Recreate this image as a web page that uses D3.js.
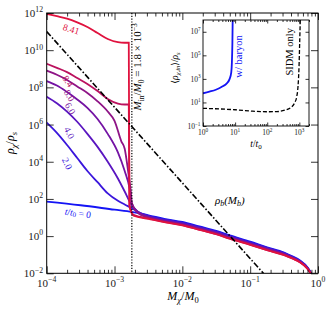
<!DOCTYPE html>
<html>
<head>
<meta charset="utf-8">
<script src="https://cdn.jsdelivr.net/npm/d3@7"></script>
<style>
  body { margin: 0; background: #fff; }
  svg { display: block; }
  text { font-family: "Liberation Serif", "DejaVu Serif", serif; }
</style>
</head>
<body>
<script>
'use strict';

// all values are log10: [log M_chi/M_0, log rho_chi/rho_s]
const mainXTicks = [-4, -3, -2, -1, 0];
const mainYTicks = [-2, 0, 2, 4, 6, 8, 10, 12];
const insetXTicks = [0, 1, 2, 3];
const insetYTicks = [-1, 1, 3, 5, 7];

const times = ["0", "2.0", "4.0", "6.0", "8.0", "8.4", "8.41"];
const colors = ["#1414f5", "#3a16dc", "#5a16c0", "#7414a4", "#8e1486", "#bb125e", "#e0123e"];

const profT0 = [[-4, 1.86], [-3.5, 1.66], [-3.0, 1.42], [-2.745, 1.3], [-2.5, 1.12], [-2.25, 0.92],
  [-2.0, 0.76], [-1.75, 0.52], [-1.5, 0.28], [-1.3, 0.04], [-1.0, -0.3], [-0.75, -0.6], [-0.5, -0.88],
  [-0.37, -1.1], [-0.27, -1.3], [-0.15, -1.7], [-0.1, -2.0], [-0.08, -2.15]];
const prof20 = [[-4, 6.1], [-3.85, 5.55], [-3.7, 4.9], [-3.55, 4.2], [-3.4, 3.5], [-3.25, 2.9],
  [-3.1, 2.3], [-2.95, 1.9], [-2.85, 1.7], [-2.745, 1.5], [-2.65, 1.3], [-2.5, 1.09], [-2.25, 0.88],
  [-2.0, 0.72], [-1.75, 0.48], [-1.5, 0.24], [-1.3, 0.0], [-1.0, -0.34], [-0.75, -0.63], [-0.5, -0.91],
  [-0.37, -1.13], [-0.27, -1.32], [-0.15, -1.72], [-0.1, -2.01], [-0.08, -2.16]];
const prof40 = [[-4, 7.5], [-3.85, 7.15], [-3.7, 6.7], [-3.55, 6.15], [-3.4, 5.5], [-3.25, 4.8],
  [-3.1, 4.0], [-2.95, 3.1], [-2.85, 2.4], [-2.745, 1.65], [-2.65, 1.3], [-2.5, 1.06], [-2.25, 0.85],
  [-2.0, 0.69], [-1.75, 0.45], [-1.5, 0.21], [-1.3, -0.03], [-1.0, -0.37], [-0.75, -0.66], [-0.5, -0.94],
  [-0.37, -1.15], [-0.27, -1.34], [-0.15, -1.74], [-0.1, -2.02], [-0.08, -2.17]];
const prof60 = [[-4, 8.34], [-3.85, 8.1], [-3.7, 7.75], [-3.55, 7.35], [-3.4, 6.9], [-3.25, 6.3],
  [-3.1, 5.5], [-2.95, 4.5], [-2.85, 3.5], [-2.78, 2.6], [-2.745, 1.75], [-2.65, 1.28], [-2.5, 1.02],
  [-2.25, 0.81], [-2.0, 0.65], [-1.75, 0.41], [-1.5, 0.17], [-1.3, -0.07], [-1.0, -0.4], [-0.75, -0.69],
  [-0.5, -0.96], [-0.37, -1.17], [-0.27, -1.36], [-0.15, -1.75], [-0.1, -2.03], [-0.08, -2.18]];
const prof80 = [[-4, 8.9], [-3.85, 8.68], [-3.7, 8.4], [-3.55, 8.05], [-3.4, 7.7], [-3.25, 7.25],
  [-3.1, 6.7], [-3.0, 6.2], [-2.9, 5.1], [-2.85, 4.7], [-2.8, 3.5], [-2.76, 2.4], [-2.745, 1.8],
  [-2.65, 1.22], [-2.5, 0.99], [-2.25, 0.78], [-2.0, 0.62], [-1.75, 0.38], [-1.5, 0.14], [-1.3, -0.1],
  [-1.0, -0.43], [-0.75, -0.72], [-0.5, -0.99], [-0.37, -1.19], [-0.27, -1.38], [-0.15, -1.76],
  [-0.1, -2.04], [-0.08, -2.19]];
const prof84 = [[-4, 9.27], [-3.85, 9.05], [-3.7, 8.82], [-3.55, 8.5], [-3.4, 8.18], [-3.25, 7.8],
  [-3.1, 7.38], [-2.95, 7.13], [-2.85, 7.08], [-2.79, 7.08], [-2.78, 1.7], [-2.72, 1.15], [-2.5, 0.95],
  [-2.25, 0.75], [-2.0, 0.59], [-1.75, 0.35], [-1.5, 0.11], [-1.3, -0.13], [-1.0, -0.46], [-0.75, -0.75],
  [-0.5, -1.01], [-0.37, -1.21], [-0.27, -1.39], [-0.15, -1.77], [-0.1, -2.05], [-0.08, -2.2]];
const prof841 = [[-4, 11.95], [-3.85, 11.83], [-3.7, 11.7], [-3.55, 11.5], [-3.4, 11.25], [-3.25, 10.92],
  [-3.1, 10.6], [-2.95, 10.43], [-2.85, 10.4], [-2.79, 10.4], [-2.78, 1.6], [-2.72, 1.1], [-2.5, 0.93],
  [-2.25, 0.74], [-2.0, 0.58], [-1.75, 0.34], [-1.5, 0.1], [-1.3, -0.14], [-1.0, -0.47], [-0.75, -0.76],
  [-0.5, -1.02], [-0.37, -1.22], [-0.27, -1.4], [-0.15, -1.78], [-0.1, -2.05], [-0.08, -2.2]];
const profiles = [profT0, prof20, prof40, prof60, prof80, prof84, prof841];

// label anchor for each curve, [log M, log rho, angle]
const labelPos = [[-3.54, 1.22, 8], [-3.70, 3.9, 65], [-3.67, 5.55, 62], [-3.655, 6.85, 60],
  [-3.67, 7.55, 58], [-3.69, 8.32, 56], [-3.64, 11.12, 17]];

const baryonLine = [[-4, 11.0], [-0.8, -2.02]];
const mIn = 1.8e-3;

// inset: [log t/t0, log <rho_in>/rho_s]
const withBaryon = [[0, 1.78], [0.2, 1.92], [0.4, 2.08], [0.6, 2.35], [0.74, 2.62], [0.83, 3.0],
  [0.88, 3.55], [0.9, 4.4], [0.915, 6.0], [0.925, 8.1]];
const sidmOnly = [[0, 0.5], [0.5, 0.45], [1, 0.38], [1.5, 0.27], [2, 0.21], [2.3, 0.22], [2.55, 0.35],
  [2.75, 0.6], [2.85, 0.95], [2.92, 1.5], [2.96, 2.4], [2.99, 4.0], [3.01, 6.0], [3.03, 8.1]];

const width = 332, height = 310;
const svg = d3.select("body").append("svg")
  .attr("width", width)
  .attr("height", height);

const x = d3.scaleLog().domain([1e-4, 1]).range([46.7, 318]);
const y = d3.scaleLog().domain([1e-2, 1e12]).range([273.3, 13]);

function sci(text, e, fs) {
  text.append("tspan").text("10");
  text.append("tspan")
    .attr("dy", -fs * 0.42)
    .attr("font-size", fs * 0.7)
    .text(e < 0 ? "\u2212" + (-e) : e);
}

function minorTicks(lo, hi, max) {
  let out = [];
  for (let k = lo; k < hi; k++) {
    for (let m = 2; m <= 9; m++) {
      if (m * Math.pow(10, k) <= max) out.push(m * Math.pow(10, k));
    }
  }
  return out;
}

function tickAxis(g, axis) {
  g.call(axis);
  g.select(".domain").remove();
  g.selectAll(".tick line").attr("stroke", "#000").attr("stroke-width", 0.8);
}

// main plot
svg.append("clipPath").attr("id", "clip")
  .append("rect")
  .attr("x", 46.7).attr("y", 13)
  .attr("width", 318 - 46.7).attr("height", 273.3 - 13);

const plot = svg.append("g").attr("clip-path", "url(#clip)");
const line = d3.line()
  .x(d => x(Math.pow(10, d[0])))
  .y(d => y(Math.pow(10, d[1])))
  .curve(d3.curveMonotoneX);

plot.selectAll("path.prof")
  .data(profiles)
  .enter()
  .append("path")
  .attr("class", "prof")
  .attr("fill", "none")
  .attr("stroke", (d, i) => colors[i])
  .attr("stroke-width", 1.8)
  .attr("d", line);

plot.append("path")
  .datum(baryonLine)
  .attr("fill", "none")
  .attr("stroke", "#000")
  .attr("stroke-width", 1.6)
  .attr("stroke-dasharray", "6,2,1.5,2")
  .attr("d", d3.line().x(d => x(Math.pow(10, d[0]))).y(d => y(Math.pow(10, d[1]))));

plot.append("line")
  .attr("x1", x(mIn)).attr("x2", x(mIn))
  .attr("y1", y(1e12)).attr("y2", y(1e-2))
  .attr("stroke", "#000")
  .attr("stroke-width", 1.2)
  .attr("stroke-dasharray", "1.2,1.6");

// curve labels
const labelText = svg.selectAll("text.tlab")
  .data(labelPos)
  .enter()
  .append("text")
  .attr("class", "tlab")
  .attr("transform", d => "translate(" + x(Math.pow(10, d[0])) + "," + y(Math.pow(10, d[1])) + ") rotate(" + d[2] + ")")
  .attr("text-anchor", "middle")
  .attr("dominant-baseline", "central")
  .attr("font-size", 9.5)
  .attr("fill", (d, i) => colors[i]);
labelText.each(function(d, i) {
  let t = d3.select(this);
  if (i === 0) {
    t.append("tspan").attr("font-style", "italic").text("t");
    t.append("tspan").text("/");
    t.append("tspan").attr("font-style", "italic").text("t");
    t.append("tspan").attr("font-size", 7).attr("dy", 2).text("0");
    t.append("tspan").attr("dy", -2).text(" = " + times[i]);
  } else {
    t.text(times[i]);
  }
});

// rho_b(M_b)
const rb = svg.append("text")
  .attr("x", x(Math.pow(10, -1.3)))
  .attr("y", y(Math.pow(10, 1.75)))
  .attr("text-anchor", "middle")
  .attr("font-size", 11)
  .attr("font-style", "italic");
rb.append("tspan").text("\u03c1");
rb.append("tspan").attr("font-size", 8).attr("dy", 2.5).text("b");
rb.append("tspan").attr("dy", -2.5).text("(M");
rb.append("tspan").attr("font-size", 8).attr("dy", 2.5).text("b");
rb.append("tspan").attr("dy", -2.5).text(")");

// M_in label
const mi = svg.append("text")
  .attr("transform", "translate(" + (x(mIn) + 9.5) + "," + y(Math.pow(10, 9.1)) + ") rotate(-90)")
  .attr("text-anchor", "middle")
  .attr("font-size", 11);
mi.append("tspan").attr("font-style", "italic").text("M");
mi.append("tspan").attr("font-size", 7.5).attr("dy", 2.5).text("in");
mi.append("tspan").attr("dy", -2.5).text("/");
mi.append("tspan").attr("font-style", "italic").text("M");
mi.append("tspan").attr("font-size", 7.5).attr("dy", 2.5).text("0");
mi.append("tspan").attr("dy", -2.5).text(" = 1.8 \u00d7 10");
mi.append("tspan").attr("font-size", 7.5).attr("dy", -4.5).text("\u22123");

// main axes
const xMinor = minorTicks(-4, 0, 1);
const yMajorVals = mainYTicks.map(e => Math.pow(10, e));
const xMajorVals = mainXTicks.map(e => Math.pow(10, e));

tickAxis(svg.append("g").attr("transform", "translate(0,273.3)"),
  d3.axisBottom(x).tickValues(xMajorVals).tickSize(-7).tickFormat(""));
tickAxis(svg.append("g").attr("transform", "translate(0,273.3)"),
  d3.axisBottom(x).tickValues(xMinor).tickSize(-3.5).tickFormat(""));
tickAxis(svg.append("g").attr("transform", "translate(0,13)"),
  d3.axisTop(x).tickValues(xMajorVals).tickSize(-7).tickFormat(""));
tickAxis(svg.append("g").attr("transform", "translate(0,13)"),
  d3.axisTop(x).tickValues(xMinor).tickSize(-3.5).tickFormat(""));
tickAxis(svg.append("g").attr("transform", "translate(46.7,0)"),
  d3.axisLeft(y).tickValues(yMajorVals).tickSize(-7).tickFormat(""));
tickAxis(svg.append("g").attr("transform", "translate(318,0)"),
  d3.axisRight(y).tickValues(yMajorVals).tickSize(-7).tickFormat(""));

svg.append("rect")
  .attr("x", 46.7).attr("y", 13)
  .attr("width", 318 - 46.7).attr("height", 273.3 - 13)
  .attr("fill", "none")
  .attr("stroke", "#000")
  .attr("stroke-width", 1);

svg.selectAll("text.xt")
  .data(mainXTicks)
  .enter()
  .append("text")
  .attr("class", "xt")
  .attr("x", d => x(Math.pow(10, d)))
  .attr("y", 287)
  .attr("text-anchor", "middle")
  .attr("font-size", 11)
  .attr("fill", "#222")
  .each(function(d) { sci(d3.select(this), d, 11); });

svg.selectAll("text.yt")
  .data(mainYTicks)
  .enter()
  .append("text")
  .attr("class", "yt")
  .attr("x", 43)
  .attr("y", d => y(Math.pow(10, d)) + 4)
  .attr("text-anchor", "end")
  .attr("font-size", 11)
  .attr("fill", "#222")
  .each(function(d) { sci(d3.select(this), d, 11); });

const xl = svg.append("text")
  .attr("x", 183).attr("y", 300)
  .attr("text-anchor", "middle")
  .attr("font-size", 12)
  .attr("font-style", "italic");
xl.append("tspan").text("M");
xl.append("tspan").attr("font-size", 8.5).attr("dy", 3).text("\u03c7");
xl.append("tspan").attr("dy", -3).attr("font-style", "normal").text("/");
xl.append("tspan").text("M");
xl.append("tspan").attr("font-size", 8.5).attr("dy", 3).attr("font-style", "normal").text("0");

const yl = svg.append("text")
  .attr("transform", "translate(14,143) rotate(-90)")
  .attr("text-anchor", "middle")
  .attr("font-size", 12)
  .attr("font-style", "italic");
yl.append("tspan").text("\u03c1");
yl.append("tspan").attr("font-size", 8.5).attr("dy", 3).text("\u03c7");
yl.append("tspan").attr("dy", -3).attr("font-style", "normal").text("/");
yl.append("tspan").text("\u03c1");
yl.append("tspan").attr("font-size", 8.5).attr("dy", 3).text("s");

// inset
const xi = d3.scaleLog().domain([1, 2000]).range([203, 309]);
const yi = d3.scaleLog().domain([0.1, 1e8]).range([126, 20]);
const inset = svg.append("g");

inset.append("rect")
  .attr("x", 203).attr("y", 20)
  .attr("width", 106).attr("height", 106)
  .attr("fill", "#fff");

const iline = d3.line()
  .x(d => xi(Math.pow(10, d[0])))
  .y(d => yi(Math.pow(10, d[1])))
  .curve(d3.curveMonotoneX);

inset.append("clipPath").attr("id", "iclip")
  .append("rect").attr("x", 203).attr("y", 20).attr("width", 106).attr("height", 106);
const ip = inset.append("g").attr("clip-path", "url(#iclip)");

ip.append("path")
  .datum(withBaryon)
  .attr("fill", "none")
  .attr("stroke", "#1414f5")
  .attr("stroke-width", 1.8)
  .attr("d", iline);

ip.append("path")
  .datum(sidmOnly)
  .attr("fill", "none")
  .attr("stroke", "#000")
  .attr("stroke-width", 1.3)
  .attr("stroke-dasharray", "4,2")
  .attr("d", iline);

const ixMajor = insetXTicks.map(e => Math.pow(10, e));
const ixMinor = minorTicks(0, 4, 2000);
const iyMajor = insetYTicks.map(e => Math.pow(10, e));

tickAxis(inset.append("g").attr("transform", "translate(0,126)"),
  d3.axisBottom(xi).tickValues(ixMajor).tickSize(-3.5).tickFormat(""));
tickAxis(inset.append("g").attr("transform", "translate(0,126)"),
  d3.axisBottom(xi).tickValues(ixMinor).tickSize(-2).tickFormat(""));
tickAxis(inset.append("g").attr("transform", "translate(0,20)"),
  d3.axisTop(xi).tickValues(ixMajor).tickSize(-3.5).tickFormat(""));
tickAxis(inset.append("g").attr("transform", "translate(0,20)"),
  d3.axisTop(xi).tickValues(ixMinor).tickSize(-2).tickFormat(""));
tickAxis(inset.append("g").attr("transform", "translate(203,0)"),
  d3.axisLeft(yi).tickValues(iyMajor).tickSize(-3.5).tickFormat(""));
tickAxis(inset.append("g").attr("transform", "translate(309,0)"),
  d3.axisRight(yi).tickValues(iyMajor).tickSize(-3.5).tickFormat(""));

inset.append("rect")
  .attr("x", 203).attr("y", 20)
  .attr("width", 106).attr("height", 106)
  .attr("fill", "none")
  .attr("stroke", "#000")
  .attr("stroke-width", 0.9);

inset.selectAll("text.ixt")
  .data(insetXTicks)
  .enter()
  .append("text")
  .attr("class", "ixt")
  .attr("x", d => xi(Math.pow(10, d)))
  .attr("y", 135)
  .attr("text-anchor", "middle")
  .attr("font-size", 7.5)
  .attr("fill", "#222")
  .each(function(d) { sci(d3.select(this), d, 7.5); });

inset.selectAll("text.iyt")
  .data(insetYTicks)
  .enter()
  .append("text")
  .attr("class", "iyt")
  .attr("x", 200.5)
  .attr("y", d => yi(Math.pow(10, d)) + 2.7)
  .attr("text-anchor", "end")
  .attr("font-size", 7.5)
  .attr("fill", "#222")
  .each(function(d) { sci(d3.select(this), d, 7.5); });

const ixl = inset.append("text")
  .attr("x", 256).attr("y", 147)
  .attr("text-anchor", "middle")
  .attr("font-size", 9.5)
  .attr("font-style", "italic");
ixl.append("tspan").text("t");
ixl.append("tspan").attr("font-style", "normal").text("/");
ixl.append("tspan").text("t");
ixl.append("tspan").attr("font-size", 7).attr("dy", 2).attr("font-style", "normal").text("0");

const iyl = inset.append("text")
  .attr("transform", "translate(178,68) rotate(-90)")
  .attr("text-anchor", "middle")
  .attr("font-size", 9.5)
  .attr("font-style", "italic");
iyl.append("tspan").attr("font-style", "normal").text("\u27e8");
iyl.append("tspan").text("\u03c1");
iyl.append("tspan").attr("font-size", 6.5).attr("dy", 2.2).text("\u03c7,in");
iyl.append("tspan").attr("dy", -2.2).attr("font-style", "normal").text("\u27e9/");
iyl.append("tspan").text("\u03c1");
iyl.append("tspan").attr("font-size", 6.5).attr("dy", 2.2).text("s");

inset.append("text")
  .attr("transform", "translate(" + xi(Math.pow(10, 1.2)) + "," + yi(Math.pow(10, 4.9)) + ") rotate(-90)")
  .attr("text-anchor", "middle")
  .attr("font-size", 10.5)
  .attr("fill", "#1414f5")
  .text("w/ baryon");

inset.append("text")
  .attr("transform", "translate(" + xi(Math.pow(10, 2.8)) + "," + yi(Math.pow(10, 5.3)) + ") rotate(-90)")
  .attr("text-anchor", "middle")
  .attr("font-size", 10.5)
  .attr("fill", "#000")
  .text("SIDM only");
</script>
</body>
</html>
